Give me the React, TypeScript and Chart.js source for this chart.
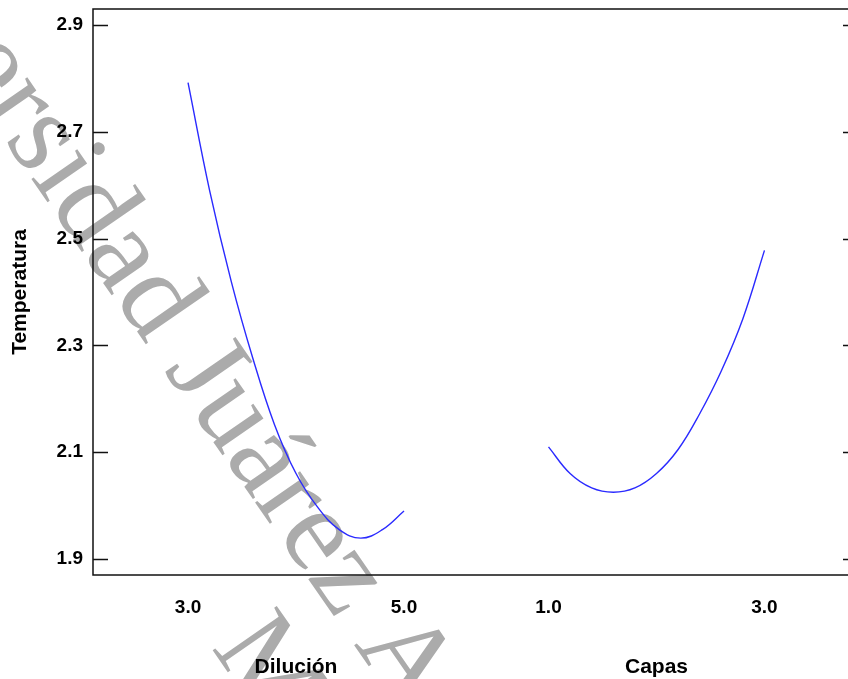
import React, { useEffect, useRef } from "react";
import { Chart, registerables } from "chart.js";

Chart.register(...registerables);

// ---- data ----
const dilucionLevels = [3.0, 3.2, 3.4, 3.6, 3.8, 4.0, 4.2, 4.4, 4.6, 4.8, 5.0];
const dilucionTemp = [2.792, 2.590, 2.420, 2.276, 2.152, 2.060, 1.997, 1.955, 1.939, 1.955, 1.990];
const capasLevels = [1.0, 1.2, 1.4, 1.6, 1.8, 2.0, 2.2, 2.4, 2.6, 2.8, 3.0];
const capasTemp = [2.110, 2.060, 2.033, 2.025, 2.033, 2.060, 2.105, 2.172, 2.252, 2.350, 2.478];
const dilucionTicks = [3.0, 5.0];
const capasTicks = [1.0, 3.0];
const yTicks = [1.9, 2.1, 2.3, 2.5, 2.7, 2.9];
const factorNames = ["Dilución", "Capas"];
const yTitle = "Temperatura";
const watermarkLines = ["Universidad Juárez Autónoma de Tabasco.", "México."];

// ---- layout / style ----
const CAPAS_SHIFT = 5.338; // where the Capas panel sits on the shared x axis
const X_MIN = 2.12;
const X_MAX = 9.204;
const Y_MIN = 1.87;
const Y_MAX = 2.93;
const FONT = "'Liberation Sans', Arial, sans-serif";
const LINE_COLOR = "#2a2aff";

const watermarkPlugin = {
  id: "watermark",
  beforeDraw(chart: any) {
    const ctx = chart.ctx as CanvasRenderingContext2D;
    ctx.save();
    ctx.font = "119px 'Liberation Serif', 'Times New Roman', serif";
    ctx.fillStyle = "#ababab";
    ctx.textBaseline = "alphabetic";
    ctx.translate(163.5, 370);
    ctx.rotate((55.3 * Math.PI) / 180);
    const pre = ctx.measureText("Universidad ").width;
    ctx.fillText(watermarkLines[0], -pre, 0);
    ctx.fillText(watermarkLines[1], 255, 119);
    ctx.restore();
  },
};

const framePlugin = {
  id: "frame",
  afterDraw(chart: any) {
    const ctx = chart.ctx as CanvasRenderingContext2D;
    const { left, right, top, bottom } = chart.chartArea;
    const y = chart.scales.y;
    const x = chart.scales.x;
    ctx.save();
    ctx.strokeStyle = "#111";
    ctx.lineWidth = 1.5;
    ctx.strokeRect(left, top, right - left, bottom - top);
    ctx.beginPath();
    yTicks.forEach((v) => {
      const py = Math.round(y.getPixelForValue(v)) + 0.5;
      ctx.moveTo(left, py);
      ctx.lineTo(left + 15, py);
      ctx.moveTo(right - 15, py);
      ctx.lineTo(right, py);
    });
    ctx.stroke();
    ctx.fillStyle = "#000";
    ctx.font = `bold 21px ${FONT}`;
    ctx.textAlign = "center";
    ctx.textBaseline = "middle";
    const dMid = (dilucionTicks[0] + dilucionTicks[dilucionTicks.length - 1]) / 2;
    const cMid = (capasTicks[0] + capasTicks[capasTicks.length - 1]) / 2 + CAPAS_SHIFT;
    ctx.fillText(factorNames[0], x.getPixelForValue(dMid), 667);
    ctx.fillText(factorNames[1], x.getPixelForValue(cMid), 667);
    ctx.restore();
  },
};

export default function App() {
  const ref = useRef<HTMLCanvasElement>(null);

  useEffect(() => {
    const canvas = ref.current;
    if (!canvas) return;
    const chart = new Chart(canvas, {
      type: "line",
      data: {
        datasets: [
          {
            label: factorNames[0],
            data: dilucionLevels.map((d, i) => ({ x: d, y: dilucionTemp[i] })),
            borderColor: LINE_COLOR,
            borderWidth: 1.4,
            pointRadius: 0,
            tension: 0.4,
            fill: false,
          },
          {
            label: factorNames[1],
            data: capasLevels.map((c, i) => ({ x: c + CAPAS_SHIFT, y: capasTemp[i] })),
            borderColor: LINE_COLOR,
            borderWidth: 1.4,
            pointRadius: 0,
            tension: 0.4,
            fill: false,
          },
        ],
      },
      options: {
        responsive: false,
        animation: false,
        devicePixelRatio: 1,
        layout: { padding: { top: 9, right: 12, left: 0, bottom: 0 } },
        plugins: { legend: { display: false }, tooltip: { enabled: false } },
        scales: {
          x: {
            type: "linear",
            min: X_MIN,
            max: X_MAX,
            grid: { display: false, drawTicks: false },
            border: { display: false },
            afterBuildTicks: (s: any) => {
              s.ticks = [
                ...dilucionTicks.map((v) => ({ value: v })),
                ...capasTicks.map((v) => ({ value: v + CAPAS_SHIFT })),
              ];
            },
            afterFit: (s: any) => {
              s.height = 104;
              s.paddingLeft = 0;
              s.paddingRight = 0;
            },
            ticks: {
              padding: 21,
              color: "#000",
              autoSkip: false,
              maxRotation: 0,
              font: { family: FONT, size: 19, weight: "bold" },
              callback: (v: any) => {
                const n = Number(v);
                return (n > 5.5 ? n - CAPAS_SHIFT : n).toFixed(1);
              },
            },
          },
          y: {
            type: "linear",
            min: Y_MIN,
            max: Y_MAX,
            grid: { display: false, drawTicks: false },
            border: { display: false },
            afterBuildTicks: (s: any) => {
              s.ticks = yTicks.map((v) => ({ value: v }));
            },
            afterFit: (s: any) => {
              s.width = 93;
              s.paddingTop = 0;
              s.paddingBottom = 0;
            },
            ticks: {
              padding: 10,
              color: "#000",
              font: { family: FONT, size: 19, weight: "bold" },
              callback: (v: any) => Number(v).toFixed(1),
            },
            title: {
              display: true,
              text: yTitle,
              color: "#000",
              font: { family: FONT, size: 21, weight: "bold" },
              padding: { top: 8, bottom: 0 },
            },
          },
        },
      },
      plugins: [watermarkPlugin, framePlugin],
    } as any);
    return () => chart.destroy();
  }, []);

  return (
    <div
      style={{
        position: "fixed",
        left: 0,
        top: 0,
        width: 848,
        height: 679,
        overflow: "hidden",
        background: "#fff",
      }}
    >
      <canvas ref={ref} width={870} height={679} style={{ display: "block", width: 870, height: 679 }} />
    </div>
  );
}
